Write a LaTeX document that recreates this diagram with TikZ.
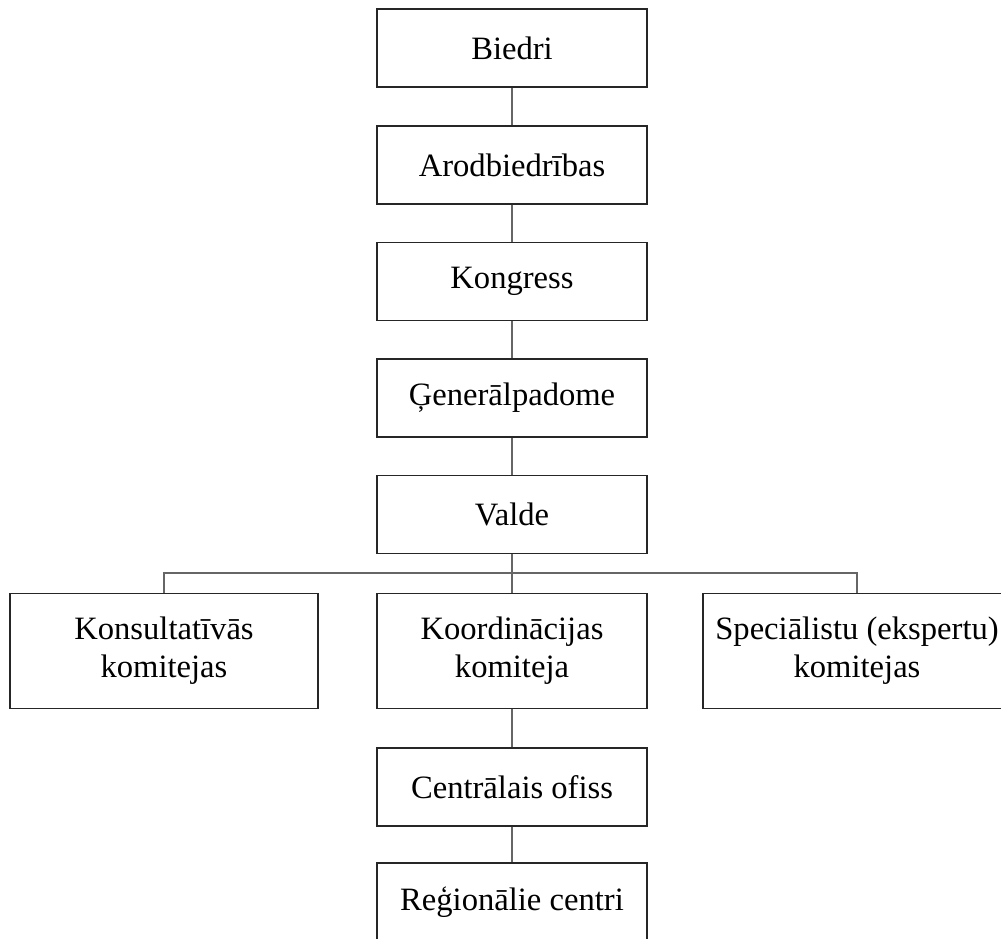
\documentclass[tikz,border=0pt]{standalone}
\usepackage{fontspec}
\setmainfont{Liberation Serif}
\usetikzlibrary{calc}

\tikzset{
  unit/.style={draw=black!85,line width=0.55pt,fill=white,align=center,
    minimum width=135pt,minimum height=39pt,inner sep=0pt,
    font=\fontsize{16.3}{19}\selectfont},
  wideunit/.style={unit,minimum width=154pt,minimum height=57.5pt},
  link/.style={draw=black!60,line width=0.55pt}
}

\begin{document}
\begin{tikzpicture}[x=0.5pt,y=-0.5pt]

\def\cx{512}
\useasboundingbox (0,0) rectangle (1001,938);
\clip (0,0) rectangle (1001,938);

\coordinate (bus) at (\cx,573);

\node[unit] (biedri)  at (\cx,48)    {Biedri};
\node[unit] (arod)    at (\cx,165)   {Arodbiedrības};
\node[unit] (kongr)   at (\cx,281.5) {Kongress};
\node[unit] (genp)    at (\cx,398)   {Ģenerālpadome};
\node[unit] (valde)   at (\cx,514.5) {Valde};

\node[wideunit] (konsult) at (164,651) {Konsultatīvās\\komitejas};
\node[unit,minimum height=57.5pt] (koord) at (\cx,651) {Koordinācijas\\komiteja};
\node[wideunit] (spec)    at (857,651) {Speciālistu (ekspertu)\\komitejas};

\node[unit] (cofiss)  at (\cx,787)   {Centrālais ofiss};
\node[unit] (regc)    at (\cx,902)   {Reģionālie centri};

% vertical chain and the branch to the committees
\draw[link] (biedri) -- (arod);
\draw[link] (arod) -- (kongr);
\draw[link] (kongr) -- (genp);
\draw[link] (genp) -- (valde);
\draw[link] (valde) -- (koord);
\draw[link] (konsult.north) |- (bus) -| (spec.north);
\draw[link] (koord) -- (cofiss);
\draw[link] (cofiss) -- (regc);

\end{tikzpicture}
\end{document}
